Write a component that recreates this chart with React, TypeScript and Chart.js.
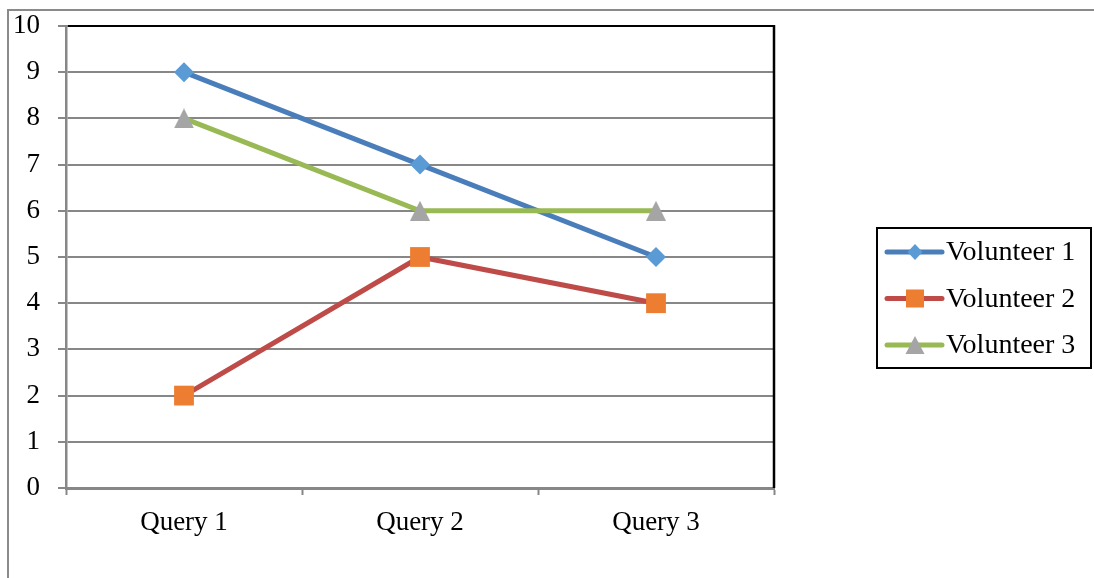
import React, { useEffect, useRef } from "react";
import { Chart, registerables } from "chart.js";

Chart.register(...registerables);

const categories = ["Query 1", "Query 2", "Query 3"];
const seriesNames = ["Volunteer 1", "Volunteer 2", "Volunteer 3"];
const volunteer1 = [9, 7, 5];
const volunteer2 = [2, 5, 4];
const volunteer3 = [8, 6, 6];
const yMin = 0;
const yMax = 10;
const yStep = 1;

const lineColors = ["#4A7EBB", "#BE4B48", "#98B954"];
const markerColors = ["#5B9BD5", "#ED7D31", "#A5A5A5"];
const FONT = "'Liberation Serif', 'Times New Roman', serif";
const GRID = "#878787";

function makeTriangle(size: number, color: string) {
  const c = document.createElement("canvas");
  c.width = size;
  c.height = size;
  const ctx = c.getContext("2d")!;
  ctx.fillStyle = color;
  ctx.beginPath();
  ctx.moveTo(size / 2, 0);
  ctx.lineTo(size, size);
  ctx.lineTo(0, size);
  ctx.closePath();
  ctx.fill();
  return c;
}

function drawMarker(ctx: CanvasRenderingContext2D, kind: number, x: number, y: number, color: string) {
  ctx.save();
  ctx.fillStyle = color;
  ctx.beginPath();
  if (kind === 0) {
    ctx.moveTo(x, y - 8);
    ctx.lineTo(x + 7.5, y);
    ctx.lineTo(x, y + 8);
    ctx.lineTo(x - 7.5, y);
    ctx.closePath();
  } else if (kind === 1) {
    ctx.rect(x - 9, y - 9, 18, 18);
  } else {
    ctx.moveTo(x, y - 9);
    ctx.lineTo(x + 9.5, y + 9);
    ctx.lineTo(x - 9.5, y + 9);
    ctx.closePath();
  }
  ctx.fill();
  ctx.restore();
}

const framePlugin = {
  id: "frame",
  afterDraw(chart: any) {
    const { ctx, chartArea, width, height } = chart;
    ctx.save();
    ctx.strokeStyle = "#8a8a8a";
    ctx.lineWidth = 2;
    ctx.beginPath();
    ctx.moveTo(8, height);
    ctx.lineTo(8, 10);
    ctx.lineTo(width, 10);
    ctx.stroke();
    ctx.strokeStyle = "#000";
    ctx.lineWidth = 2.5;
    ctx.beginPath();
    ctx.moveTo(chartArea.right, chartArea.top - 1);
    ctx.lineTo(chartArea.right, chartArea.bottom);
    ctx.stroke();

    const bx = chartArea.right + 103;
    const by = 228;
    const bw = 214;
    const bh = 140;
    ctx.strokeStyle = "#000";
    ctx.lineWidth = 2;
    ctx.strokeRect(bx, by, bw, bh);
    ctx.font = `28px ${FONT}`;
    ctx.textBaseline = "alphabetic";
    ctx.textAlign = "left";
    chart.data.datasets.forEach((ds: any, i: number) => {
      const cy = 252 + i * 46.5;
      ctx.strokeStyle = ds.borderColor;
      ctx.lineWidth = 5;
      ctx.lineCap = "round";
      ctx.beginPath();
      ctx.moveTo(bx + 10, cy);
      ctx.lineTo(bx + 65, cy);
      ctx.stroke();
      drawMarker(ctx, i, bx + 38, cy, markerColors[i]);
      ctx.fillStyle = "#000";
      ctx.fillText(ds.label, bx + 69, cy + 8);
    });
    ctx.restore();
  },
};

export default function App() {
  const ref = useRef<HTMLCanvasElement>(null);
  useEffect(() => {
    if (!ref.current) return;
    const tri = makeTriangle(20, markerColors[2]);
    const values = [volunteer1, volunteer2, volunteer3];
    const styles: any[] = ["rectRot", "rect", tri];
    const radii = [10, 14, 10];
    const chart = new Chart(ref.current, {
      type: "line",
      data: {
        labels: categories,
        datasets: values.map((v, i) => ({
          label: seriesNames[i],
          data: v,
          borderColor: lineColors[i],
          backgroundColor: markerColors[i],
          pointBackgroundColor: markerColors[i],
          pointBorderColor: markerColors[i],
          pointBorderWidth: 0,
          pointStyle: styles[i],
          pointRadius: radii[i],
          pointHoverRadius: radii[i],
          borderWidth: 5,
          tension: 0,
          order: 2 - i,
        })),
      },
      options: {
        animation: false,
        responsive: true,
        maintainAspectRatio: false,
        layout: { padding: { top: 26, right: 320, left: 0, bottom: 0 } },
        plugins: { legend: { display: false }, tooltip: { enabled: false } },
        scales: {
          x: {
            offset: true,
            afterFit: (s: any) => {
              s.height = 90;
              s.paddingLeft = 0;
              s.paddingRight = 0;
            },
            grid: {
              offset: true,
              drawOnChartArea: false,
              drawTicks: true,
              tickLength: 7,
              tickColor: GRID,
              tickWidth: 2,
            },
            border: { color: GRID, width: 3 },
            ticks: {
              color: "#000",
              font: { family: FONT, size: 27 },
              padding: 12,
              maxRotation: 0,
            },
          },
          y: {
            min: yMin,
            max: yMax,
            afterFit: (s: any) => {
              s.width = 66;
              s.paddingTop = 0;
              s.paddingBottom = 0;
            },
            grid: {
              color: (c: any) => (c.tick && c.tick.value === yMax ? "#000" : GRID),
              lineWidth: 2,
              tickLength: 8,
              tickColor: GRID,
              tickWidth: 2,
            },
            border: { color: GRID, width: 2.5 },
            ticks: {
              stepSize: yStep,
              color: "#000",
              font: { family: FONT, size: 27 },
              padding: 18,
            },
          },
        },
      },
      plugins: [framePlugin],
    });
    return () => chart.destroy();
  }, []);
  return (
    <div style={{ position: "fixed", left: 0, top: 0, width: 1094, height: 578, background: "#fff" }}>
      <canvas ref={ref} />
    </div>
  );
}
